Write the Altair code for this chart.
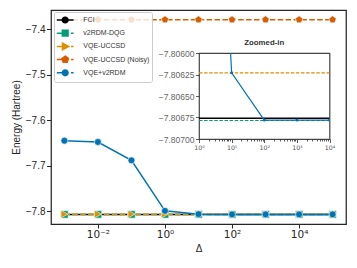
import altair as alt
import pandas as pd

# ---------------- data ----------------
delta = [1e-3, 1e-2, 1e-1, 1e0, 1e1, 1e2, 1e3, 1e4, 1e5]
e_fci = [-7.80676, -7.80676, -7.80676, -7.80676, -7.80676, -7.80676, -7.80676, -7.80676, -7.80676]
e_v2rdm = [-7.806785, -7.806785, -7.806785, -7.806785, -7.806785, -7.806785, -7.806785, -7.806785, -7.806785]
e_vqe = [-7.80623, -7.80623, -7.80623, -7.80623, -7.80623, -7.80623, -7.80623, -7.80623, -7.80623]
e_noisy = [-7.37896, -7.37896, -7.37896, -7.37896, -7.37896, -7.37896, -7.37896, -7.37896, -7.37896]
e_hybrid = [-7.6448, -7.6477, -7.6880, -7.7990, -7.80623, -7.80678, -7.80678, -7.80678, -7.80678]

series = ["FCI", "v2RDM-DQG", "VQE-UCCSD", "VQE-UCCSD (Noisy)", "VQE+v2RDM"]
values = [e_fci, e_v2rdm, e_vqe, e_noisy, e_hybrid]
colors = ["#000000", "#029e73", "#de8f05", "#d55e00", "#0173b2"]

main_xticks = [1e-2, 1e0, 1e2, 1e4]
main_xlabels = ["10\u207b\u00b2", "10\u2070", "10\u00b2", "10\u2074"]
main_yticks = [-7.8, -7.7, -7.6, -7.5, -7.4]

inset_major = [1, 10, 100, 1000, 10000]
inset_major_labels = ["10\u2070", "10\u00b9", "10\u00b2", "10\u00b3", "10\u2074"]
inset_xticks = [m * k for m in [1, 10, 100, 1000] for k in range(1, 10)] + [10000]
inset_yticks = [-7.807, -7.80675, -7.8065, -7.80625, -7.806]

rows = []
for name, vals in zip(series, values):
    for d, v in zip(delta, vals):
        rows.append({"delta": d, "energy": v, "series": name})
df = pd.DataFrame(rows)

# ---------------- styles ----------------
dashes = [None, [5.5, 2.4], [5.5, 2.4], [5.5, 2.4], None]
pent = "M0,-1L0.951,-0.309L0.588,0.809L-0.588,0.809L-0.951,-0.309Z"
shapes = ["circle", "square", "triangle-right", pent, "circle"]
sizes = [48, 58, 62, 60, 48]

r = 0.6
circ = f"M{r},0A{r},{r} 0 1,1 {-r},0A{r},{r} 0 1,1 {r},0Z"
solid = "M-1.77,0H1.77"
dashed = "M-1.77,0H-0.72M1.24,0H1.77"
sq = "M-0.6,-0.6H0.6V0.6H-0.6Z"
tri = "M-0.58,-0.7L0.75,0L-0.58,0.7Z"
pk = 0.72
pen_l = (f"M0,{-pk}L{0.951*pk:.3f},{-0.309*pk:.3f}L{0.588*pk:.3f},{0.809*pk:.3f}"
         f"L{-0.588*pk:.3f},{0.809*pk:.3f}L{-0.951*pk:.3f},{-0.309*pk:.3f}Z")
legend_paths = [solid + circ, dashed + sq, dashed + tri, dashed + pen_l, dashed + circ]

# ---------------- main chart ----------------
def expr_labels(ticks, labels):
    e = "''"
    for t, l in reversed(list(zip(ticks, labels))):
        e = f"abs(datum.value - {t}) < {t} * 1e-6 ? '{l}' : ({e})"
    return e

xs = alt.Scale(type="log", domain=[10 ** -3.4, 10 ** 5.4], nice=False)
ys = alt.Scale(domain=[-7.82791, -7.35758], nice=False, zero=False)
xaxis = alt.Axis(values=main_xticks, labelExpr=expr_labels(main_xticks, main_xlabels),
                 labelFont="DejaVu Sans", labelFontSize=10.5, labelColor="#262626",
                 tickSize=4, tickColor="#262626", tickWidth=1, labelPadding=1,
                 domain=False, grid=False, labelFlush=False, labelOverlap=False,
                 titleFontSize=10, titleFont="Liberation Sans", titleColor="#262626",
                 titlePadding=4, titleFontWeight="normal")
yaxis = alt.Axis(values=main_yticks, format=".1f", labelFont="Liberation Sans",
                 labelFontSize=10, labelColor="#262626", tickSize=4.5, tickColor="#262626",
                 tickWidth=1, labelPadding=1.5, domain=False, grid=False,
                 titleFontSize=10, titleFont="Liberation Sans", titleColor="#262626",
                 titlePadding=4, titleFontWeight="normal")

X = alt.X("delta:Q", scale=xs, axis=xaxis, title="\u0394")
Y = alt.Y("energy:Q", scale=ys, axis=yaxis, title="Energy (Hartree)")

base = alt.Chart(df)
layers = []
for name, c, dsh, shp, sz in zip(series, colors, dashes, shapes, sizes):
    lk = dict(color=c, strokeWidth=1.5)
    if dsh:
        lk["strokeDash"] = dsh
    layers.append(base.transform_filter(alt.datum.series == name).mark_line(**lk).encode(x=X, y=Y))
    layers.append(base.transform_filter(alt.datum.series == name).mark_point(
        filled=True, shape=shp, size=sz, fill=c, stroke="white", strokeWidth=0.6, opacity=1
    ).encode(x=X, y=Y))

leg = alt.Legend(title=None, orient="none", legendX=3, legendY=2, direction="vertical",
                 padding=2.5, symbolSize=90, symbolOffset=3.2, labelOffset=12.6, rowPadding=0.2,
                 labelFont="Liberation Sans", labelFontSize=7, labelColor="#333333",
                 fillColor="rgba(255,255,255,0.8)", strokeColor="#cccccc", cornerRadius=2,
                 symbolStrokeWidth=1.5, labelLimit=200)
legend_layer = base.transform_filter("false").mark_point(filled=True, opacity=1).encode(
    x=X, y=Y,
    color=alt.Color("series:N", scale=alt.Scale(domain=series, range=colors), legend=leg),
    stroke=alt.Stroke("series:N", scale=alt.Scale(domain=series, range=colors), legend=leg),
    shape=alt.Shape("series:N", scale=alt.Scale(domain=series, range=legend_paths), legend=leg),
)
layers.append(legend_layer)

main = alt.layer(*layers).properties(
    width=295, height=214,
    view=alt.ViewBackground(stroke="#262626", strokeWidth=1.25),
)

# ---------------- inset ----------------
ixs = alt.Scale(type="log", domain=[1, 1e4], nice=False)
iys = alt.Scale(domain=[-7.807, -7.806], nice=False, zero=False)
major_list = "[" + ",".join(str(v) for v in inset_major) + "]"
major_test = f"indexof({major_list}, datum.value) >= 0"
ilab = (f"indexof({major_list}, datum.value) >= 0 ? ["
        + ",".join(f"'{l}'" for l in inset_major_labels)
        + f"][indexof({major_list}, datum.value)] : ''")
ixaxis = alt.Axis(values=inset_xticks, labelExpr=ilab, labelFont="DejaVu Sans",
                  labelFontSize=6.2, labelColor="#555555", labelPadding=1.5,
                  tickSize={"condition": {"test": major_test, "value": 3.5}, "value": 2},
                  tickColor="#333333", tickWidth=0.8, domain=False, grid=False,
                  labelFlush=False, labelOverlap=False, title=None)
iyaxis = alt.Axis(values=inset_yticks, format=".5f", labelFont="Liberation Sans",
                  labelFontSize=8.5, labelColor="#666666", labelPadding=1.5, tickSize=3.5,
                  tickColor="#333333", tickWidth=0.8, domain=False, grid=False,
                  labelFlush=False, labelOverlap=False, title=None)
IX = alt.X("delta:Q", scale=ixs, axis=ixaxis)
IY = alt.Y("energy:Q", scale=iys, axis=iyaxis)

ibase = alt.Chart(df).transform_filter((alt.datum.delta >= 1) & (alt.datum.delta <= 1e4))
ilayers = []
inset_w = [1.5, 1.2, 1.2, 1.2, 1.2]
inset_dash = [None, [3.5, 1.6], [3.5, 1.6], [3.5, 1.6], None]
for name, c, dsh, w in zip(series, colors, inset_dash, inset_w):
    lk = dict(color=c, strokeWidth=w, clip=True)
    if dsh:
        lk["strokeDash"] = dsh
    ilayers.append(ibase.transform_filter(alt.datum.series == name).mark_line(**lk).encode(x=IX, y=IY))
ilayers.append(ibase.transform_filter(alt.datum.series == "VQE+v2RDM").mark_point(
    filled=True, shape="circle", size=9, fill=colors[4], opacity=1, clip=True
).encode(x=IX, y=IY))

inset = alt.layer(*ilayers).properties(
    width=130.5, height=86,
    title=alt.TitleParams("Zoomed-in", fontSize=7.8, fontWeight="bold", color="#333333",
                          font="Liberation Sans", offset=2.5, anchor="middle"),
    view=alt.ViewBackground(stroke="#444444", strokeWidth=1.2, fill="white"),
)

def spacer(w, h):
    return alt.Chart(pd.DataFrame({"s": [0]})).mark_point(opacity=0).encode(
        x=alt.X("s:Q", axis=None), y=alt.Y("s:Q", axis=None)
    ).properties(width=w, height=h, view=alt.ViewBackground(stroke="transparent"))

inset_col = alt.vconcat(spacer(10, 43), inset, spacing=0, bounds="flush")
inset_block = alt.hconcat(spacer(148, 10), inset_col, spacing=0, bounds="flush")

chart = alt.vconcat(inset_block, main, spacing=0, bounds="flush").properties(
    padding={"left": 2, "top": 1, "right": 2, "bottom": 2}
).configure(font="Liberation Sans")

chart.save("out.html", embed_options={"renderer": "svg", "actions": False})
